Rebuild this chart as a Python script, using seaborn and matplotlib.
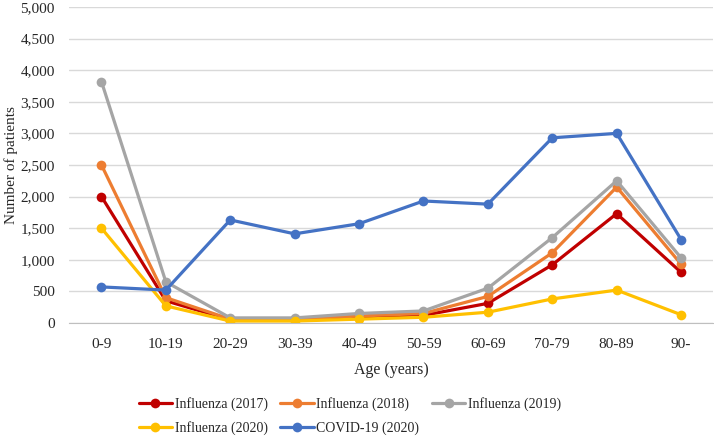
import pandas as pd
import matplotlib.pyplot as plt
import seaborn as sns
from matplotlib.ticker import FuncFormatter

# data
ages = ["0-9", "10-19", "20-29", "30-39", "40-49", "50-59", "60-69", "70-79", "80-89", "90-"]
flu_2017 = [2000, 350, 50, 50, 90, 120, 310, 920, 1730, 800]
flu_2018 = [2500, 400, 60, 60, 110, 150, 420, 1110, 2150, 930]
flu_2019 = [3820, 650, 80, 80, 150, 190, 550, 1350, 2250, 1030]
flu_2020 = [1500, 270, 30, 30, 60, 90, 170, 380, 520, 130]
covid_2020 = [570, 520, 1630, 1410, 1570, 1930, 1880, 2930, 3000, 1320]

series_names = ["Influenza (2017)", "Influenza (2018)", "Influenza (2019)",
                "Influenza (2020)", "COVID-19 (2020)"]
series_values = [flu_2017, flu_2018, flu_2019, flu_2020, covid_2020]
colors = ["#C00000", "#ED7D31", "#A5A5A5", "#FFC000", "#4472C4"]

rows = []
for name, vals in zip(series_names, series_values):
    for a, v in zip(ages, vals):
        rows.append({"Age": a, "Patients": v, "Series": name})
df = pd.DataFrame(rows)

sns.set_style("white")
plt.rcParams["font.family"] = ["Liberation Serif", "DejaVu Serif"]

fig = plt.figure(figsize=(7.14, 4.37), dpi=100)
ax = fig.add_axes([0.097, 0.261, 0.902, 0.723])

sns.lineplot(data=df, x="Age", y="Patients", hue="Series", hue_order=series_names,
             palette=colors, marker="o", markersize=7, markeredgewidth=0,
             linewidth=2.3, sort=False, ax=ax, legend=False)

ax.set_ylim(0, 5000)
ax.set_yticks(range(0, 5001, 500))
ax.yaxis.set_major_formatter(FuncFormatter(lambda v, p: f"{int(v):,}"))
ax.set_xlim(-0.5, len(ages) - 0.5)
ax.grid(axis="y", color="#D9D9D9", linewidth=1)
ax.set_axisbelow(True)
for s in ["top", "right", "left"]:
    ax.spines[s].set_visible(False)
ax.spines["bottom"].set_color("#BFBFBF")
ax.tick_params(axis="y", length=0, labelsize=11, pad=10.5)
ax.tick_params(axis="x", length=0, labelsize=11, pad=11)
ax.set_xlabel("Age (years)", fontsize=11.5, labelpad=8)
ax.set_ylabel("Number of patients", fontsize=11, labelpad=1.5)

# legend, filled row by row
handles = [plt.Line2D([], [], color=c, linewidth=2.3, marker="o", markersize=7,
                      markeredgewidth=0) for c in colors]
order = [0, 3, 1, 4, 2]
fig.legend([handles[i] for i in order], [series_names[i] for i in order],
           loc="lower center", bbox_to_anchor=(0.49, -0.025), ncol=3, frameon=False,
           fontsize=10, handlelength=2.4, handletextpad=0.2, columnspacing=0.9,
           labelspacing=0.75)

fig.savefig("out.png", dpi=100)
